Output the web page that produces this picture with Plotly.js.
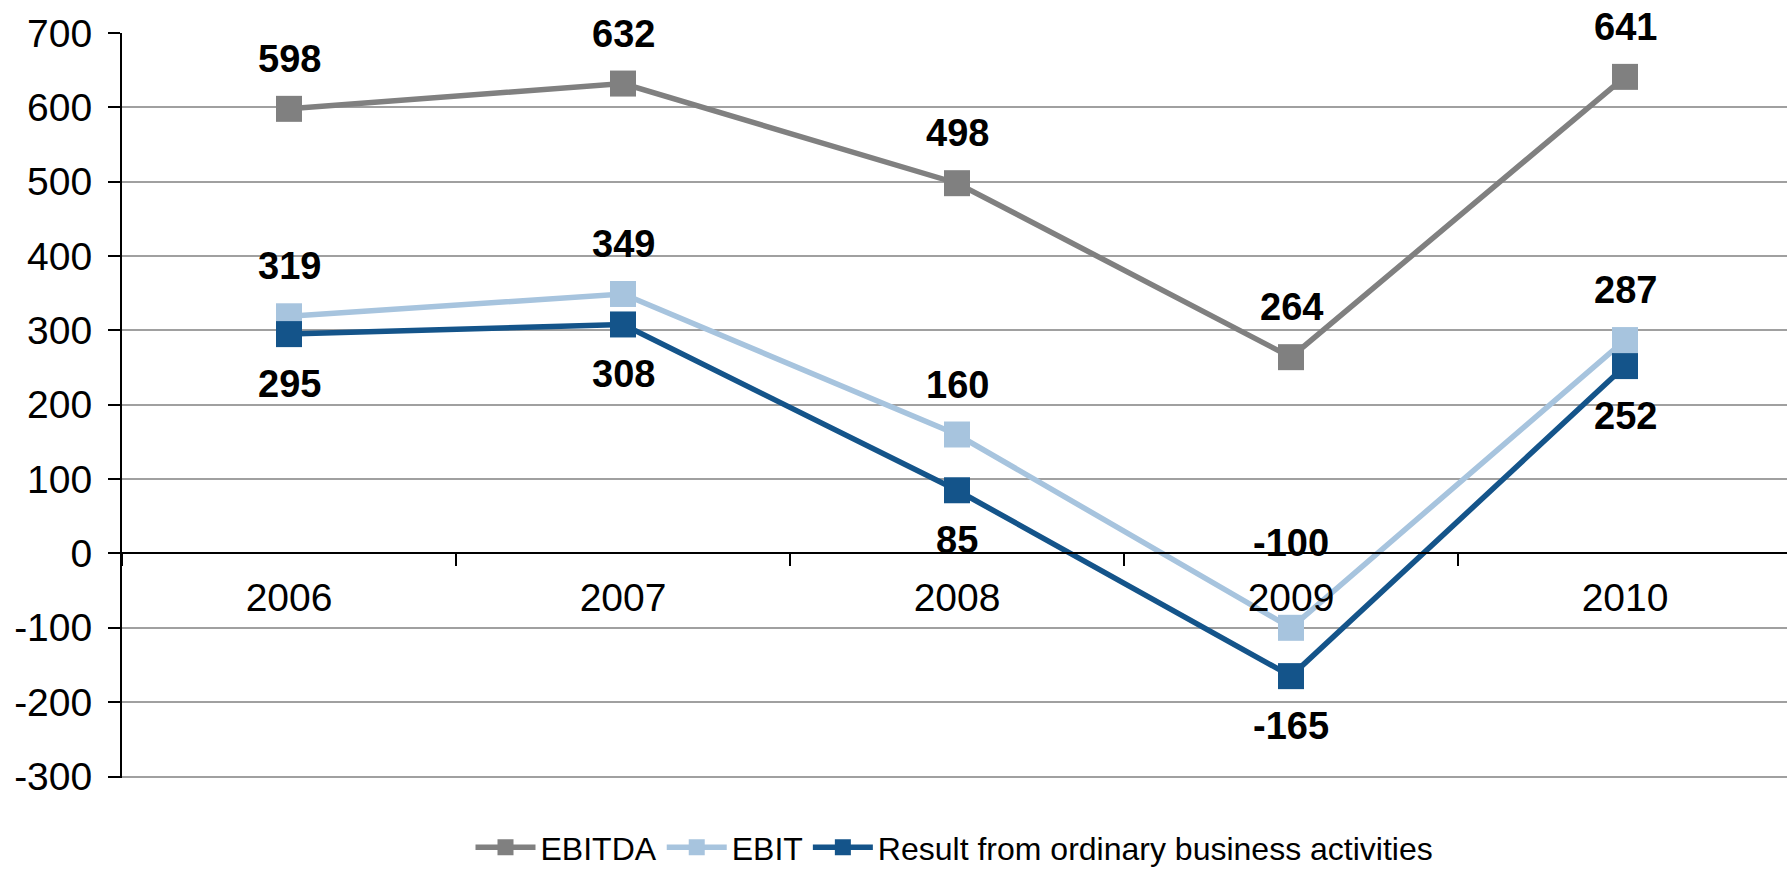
<!DOCTYPE html>
<html>
<head>
<meta charset="utf-8">
<script src="https://cdn.plot.ly/plotly-3.0.1.min.js"></script>
<style>html,body{margin:0;padding:0;background:#fff;}#chart{width:1787px;height:875px;}</style>
</head>
<body>
<div id="chart"></div>
<script>
const years = ["2006", "2007", "2008", "2009", "2010"];
const ebitda = [598, 632, 498, 264, 641];
const ebit = [319, 349, 160, -100, 287];
const result = [295, 308, 85, -165, 252];
const seriesNames = ["EBITDA", "EBIT", "Result from ordinary business activities"];
const yTicks = [-300, -200, -100, 0, 100, 200, 300, 400, 500, 600, 700];

const colors = ["#808080", "#A7C4DE", "#14548A"];
const FONT = "Arial, 'Liberation Sans', sans-serif";

const seriesData = [ebitda, ebit, result];
const traces = seriesData.map((vals, i) => ({
  type: "scatter",
  mode: "lines+markers",
  name: seriesNames[i],
  x: years,
  y: vals,
  line: {color: colors[i], width: 5.5},
  marker: {symbol: "square", size: 26, color: colors[i]},
  hoverinfo: "skip"
}));

// label placement: above for EBITDA and EBIT, below for Result
const side = [1, 1, -1];
const annotations = [];
seriesData.forEach((vals, i) => {
  vals.forEach((v, j) => {
    let shift = 50 * side[i];
    // the EBIT 2009 label sits higher to clear the category label
    if (i === 1 && years[j] === "2009") shift = 85;
    annotations.push({
      x: j, y: v, xref: "x", yref: "y",
      text: String(v), showarrow: false, yshift: shift,
      font: {family: FONT, size: 38, color: "#000", weight: "bold"}
    });
  });
});

const yMin = -302, yMax = 700;
const zeroFrac = (0 - yMin) / (yMax - yMin);

const layout = {
  width: 1787, height: 875,
  margin: {l: 122, r: 0, t: 33, b: 96.5, pad: 0, autoexpand: false},
  paper_bgcolor: "#fff", plot_bgcolor: "#fff",
  font: {family: FONT, color: "#000"},
  showlegend: true,
  legend: {
    orientation: "h", x: 0.5, xanchor: "center",
    yref: "container", y: 0, yanchor: "bottom",
    borderwidth: 0,
    font: {family: FONT, size: 32, color: "#000"},
    itemwidth: 60, tracegroupgap: 0, traceorder: "normal"
  },
  xaxis: {
    type: "category",
    range: [-0.5, 4.485],
    anchor: "free", position: zeroFrac,
    showgrid: false, zeroline: false,
    showline: true, linecolor: "#000", linewidth: 2,
    ticks: "outside", tickson: "boundaries", ticklen: 12, tickcolor: "#000", tickwidth: 2,
    tickfont: {family: FONT, size: 39, color: "#000"},
    ticklabelstandoff: 10,
    fixedrange: true
  },
  yaxis: {
    range: [yMin, yMax],
    tickvals: yTicks,
    ticktext: yTicks.map(String),
    showgrid: true, gridcolor: "#A0A0A0", gridwidth: 2,
    zeroline: true, zerolinecolor: "#000", zerolinewidth: 2,
    showline: true, linecolor: "#000", linewidth: 2,
    ticks: "outside", ticklen: 12, tickcolor: "#000", tickwidth: 2,
    tickfont: {family: FONT, size: 39, color: "#000"},
    ticklabelstandoff: 8,
    fixedrange: true
  },
  annotations: annotations
};

Plotly.newPlot("chart", traces, layout, {displayModeBar: false, staticPlot: true});
</script>
</body>
</html>
